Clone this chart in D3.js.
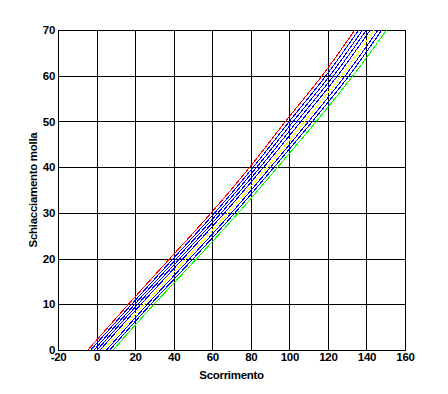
<!DOCTYPE html>
<html lang="en">
<head>
<meta charset="UTF-8">
<title>Schiacciamento molla</title>
<script src="https://d3js.org/d3.v7.min.js"></script>
<style>
  body { margin: 0; background: #fff; }
  text { font-family: "Liberation Sans", Arial, sans-serif; font-weight: bold; font-size: 11.5px; letter-spacing: -0.3px; }
</style>
</head>
<body>
<svg id="main" width="448" height="394"></svg>
<script>
    // y levels shared by every curve
    const yLevels = [0, 10, 20, 30, 40, 50, 60, 70]
    // x (Scorrimento) for each curve at the y levels above
    const redX    = [-4.5, 16.5, 38, 59.5, 79.5, 98, 117, 134]
    const blue1X  = [-3, 18.2, 39.8, 61.3, 81.3, 100, 119, 136]
    const blue2X  = [-1.3, 19.8, 41.5, 63, 83.1, 102, 121, 138]
    const blue3X  = [0.3, 21.4, 43.2, 64.7, 84.9, 104, 123, 140]
    const blue4X  = [1.9, 23, 44.9, 66.4, 86.7, 106, 125, 142]
    const yellowX = [3.5, 24.7, 46.6, 68.2, 88.5, 108, 127, 144]
    const blue5X  = [5.2, 26.4, 48.4, 70, 90.3, 110, 129, 146]
    const blue6X  = [6.9, 28.1, 50.2, 71.8, 92.1, 112, 131, 148]
    const greenX  = [8.6, 29.8, 52, 73.6, 94, 114, 133, 150.5]

    const series = [
        {name: 'red', color: '#ff0000', xs: redX},
        {name: 'b1', color: '#0000ff', xs: blue1X},
        {name: 'b2', color: '#0000ff', xs: blue2X},
        {name: 'b3', color: '#0000ff', xs: blue3X},
        {name: 'b4', color: '#0000ff', xs: blue4X},
        {name: 'yellow', color: '#ffff00', xs: yellowX},
        {name: 'b5', color: '#0000ff', xs: blue5X},
        {name: 'b6', color: '#0000ff', xs: blue6X},
        {name: 'green', color: '#00ff00', xs: greenX}
    ]

    const xTicks = [-20, 0, 20, 40, 60, 80, 100, 120, 140, 160]
    const yTicks = [0, 10, 20, 30, 40, 50, 60, 70]

    const svg = d3.select('#main')
    const pLeft = 58, pRight = 405, pTop = 30, pBottom = 350

    const x = d3.scaleLinear().domain([-20, 160]).range([pLeft, pRight])
    const y = d3.scaleLinear().domain([0, 70]).range([pBottom, pTop])

    svg.append('clipPath').attr('id', 'clip')
        .append('rect')
        .attr('x', pLeft).attr('y', pTop)
        .attr('width', pRight - pLeft).attr('height', pBottom - pTop)

    // grid
    const gx = svg.append('g')
        .attr('transform', 'translate(0,' + pBottom + ')')
        .call(d3.axisBottom(x).tickValues(xTicks).tickFormat(d => String(d))
            .tickSize(-(pBottom - pTop)).tickPadding(2))
    const gy = svg.append('g')
        .attr('transform', 'translate(' + pLeft + ',0)')
        .call(d3.axisLeft(y).tickValues(yTicks).tickFormat(d => String(d))
            .tickSize(-(pRight - pLeft)).tickPadding(3))
    for (const g of [gx, gy]) {
        g.select('.domain').remove()
        g.selectAll('line').attr('stroke', '#000').attr('shape-rendering', 'crispEdges')
        g.selectAll('text').attr('fill', '#000').style('font-size', '11.5px')
            .style('font-family', '"Liberation Sans", Arial, sans-serif')
    }
    gx.selectAll('text').attr('dy', '0.8em')
    svg.append('rect')
        .attr('x', pLeft).attr('y', pTop)
        .attr('width', pRight - pLeft).attr('height', pBottom - pTop)
        .attr('fill', 'none').attr('stroke', '#000')
        .attr('shape-rendering', 'crispEdges')

    const line = d3.line()
        .x(d => x(d[0]))
        .y(d => y(d[1]))
        .curve(d3.curveMonotoneY)

    svg.append('g').attr('clip-path', 'url(#clip)')
        .selectAll('path')
        .data(series)
        .join('path')
        .attr('d', s => line(s.xs.map((v, i) => [v, yLevels[i]])))
        .attr('fill', 'none')
        .attr('stroke', s => s.color)
        .attr('stroke-width', 1)
        .attr('shape-rendering', 'crispEdges')

    svg.append('text')
        .attr('x', (pLeft + pRight) / 2)
        .attr('y', 379)
        .attr('text-anchor', 'middle')
        .text('Scorrimento')

    svg.append('text')
        .attr('transform', 'translate(37,' + (pTop + pBottom) / 2 + ') rotate(-90)')
        .attr('text-anchor', 'middle')
        .text('Schiacciamento molla')
</script>
</body>
</html>
